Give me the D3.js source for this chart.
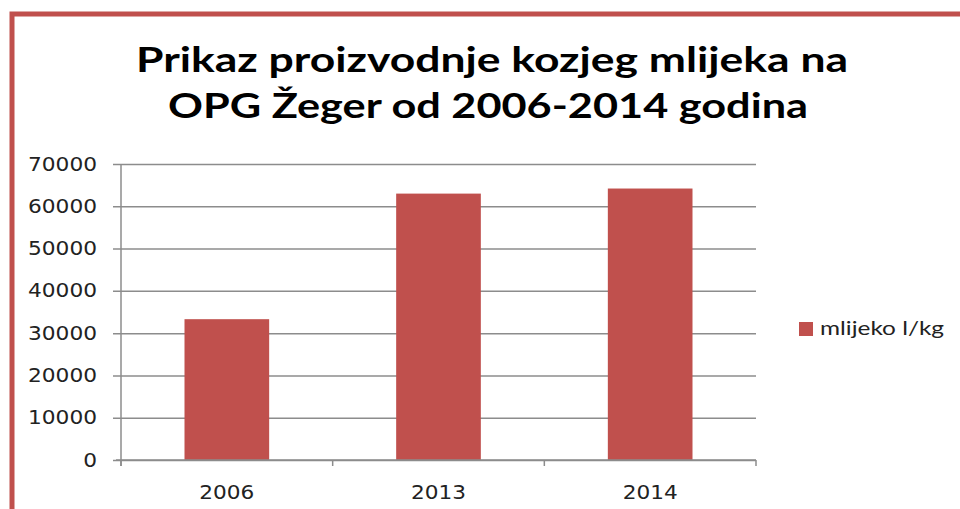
<!DOCTYPE html>
<html>
<head>
<meta charset="utf-8">
<script src="https://cdn.jsdelivr.net/npm/d3@7"></script>
<style>
  body { margin: 0; background: #fff; }
  svg { display: block; }
</style>
</head>
<body>
<div id="chart"></div>
<script>
// data
const years = ["2006", "2013", "2014"];
const milk = [33300, 63000, 64200];
const yTicks = [0, 10000, 20000, 30000, 40000, 50000, 60000, 70000];
const titleLines = ["Prikaz proizvodnje kozjeg mlijeka na", "OPG Žeger od 2006-2014 godina"];
const seriesName = "mlijeko l/kg";

const W = 960, H = 509;
const red = "#c0504d";
const grid = "#8c8c8c";

const svg = d3.select("#chart").append("svg")
  .attr("width", W)
  .attr("height", H);

// frame of the chart object, cut off at right and bottom
svg.append("rect")
  .attr("x", 12).attr("y", 14)
  .attr("width", 1000).attr("height", 600)
  .attr("fill", "none")
  .attr("stroke", red)
  .attr("stroke-width", 5);

// title
const titleW = [712, 640];
svg.selectAll(".title")
  .data(titleLines)
  .enter()
  .append("text")
  .attr("x", (d, i) => i === 0 ? 136 : 168)
  .attr("y", (d, i) => 72 + i * 46)
  .attr("textLength", (d, i) => titleW[i])
  .attr("lengthAdjust", "spacingAndGlyphs")
  .style("font-family", "Lato, 'Open Sans', sans-serif")
  .style("font-weight", "bold")
  .style("font-size", "34px")
  .style("fill", "#000")
  .text(d => d);

const plot = { left: 121, right: 756, top: 164, bottom: 460 };

const x = d3.scaleBand()
  .domain(years)
  .range([plot.left, plot.right])
  .paddingInner(0.6)
  .paddingOuter(0.3);

const y = d3.scaleLinear()
  .domain([0, 70000])
  .range([plot.bottom, plot.top]);

// gridlines + y axis
const yAxis = svg.append("g")
  .attr("transform", `translate(${plot.left},0)`)
  .call(d3.axisLeft(y)
    .tickValues(yTicks)
    .tickSize(-(plot.right - plot.left))
    .tickSizeOuter(0)
    .tickPadding(24)
    .tickFormat(d3.format("d")));
yAxis.select(".domain").remove();
yAxis.selectAll(".tick line")
  .attr("x1", -8)
  .attr("stroke", grid)
  .attr("stroke-width", 1.5);
yAxis.selectAll(".tick text")
  .style("font-family", "'DejaVu Sans', sans-serif")
  .style("font-size", "19px")
  .style("fill", "#222")
  .each(function (d) {
    const n = String(d).length;
    d3.select(this)
      .attr("textLength", n * 13.8)
      .attr("lengthAdjust", "spacingAndGlyphs");
  });

// vertical axis line
svg.append("line")
  .attr("x1", plot.left).attr("x2", plot.left)
  .attr("y1", plot.top).attr("y2", plot.bottom + 6)
  .attr("stroke", grid)
  .attr("stroke-width", 1.5);

// bars
svg.selectAll(".bar")
  .data(milk)
  .enter()
  .append("rect")
  .attr("class", "bar")
  .attr("x", (d, i) => x(years[i]))
  .attr("width", x.bandwidth())
  .attr("y", d => y(d))
  .attr("height", d => y(0) - y(d))
  .attr("fill", red);

// category axis
const step = (plot.right - plot.left) / years.length;
const xAxis = svg.append("g")
  .attr("transform", `translate(0,${plot.bottom})`);
xAxis.append("line")
  .attr("x1", plot.left - 5).attr("x2", plot.right)
  .attr("stroke", grid)
  .attr("stroke-width", 1.5);
xAxis.selectAll(".sep")
  .data(d3.range(years.length + 1))
  .enter()
  .append("line")
  .attr("x1", i => plot.left + i * step)
  .attr("x2", i => plot.left + i * step)
  .attr("y1", 0).attr("y2", 6)
  .attr("stroke", grid)
  .attr("stroke-width", 1.5);
xAxis.selectAll(".lab")
  .data(years)
  .enter()
  .append("text")
  .attr("x", d => x(d) + x.bandwidth() / 2)
  .attr("y", 39)
  .attr("text-anchor", "middle")
  .attr("textLength", 55)
  .attr("lengthAdjust", "spacingAndGlyphs")
  .style("font-family", "'DejaVu Sans', sans-serif")
  .style("font-size", "19px")
  .style("fill", "#222")
  .text(d => d);

// legend
svg.append("rect")
  .attr("x", 799).attr("y", 322)
  .attr("width", 14).attr("height", 14)
  .attr("fill", red);
svg.append("text")
  .attr("x", 820).attr("y", 335)
  .attr("textLength", 124)
  .attr("lengthAdjust", "spacingAndGlyphs")
  .style("font-family", "Lato, sans-serif")
  .style("font-size", "20px")
  .style("fill", "#222")
  .text(seriesName);
</script>
</body>
</html>
